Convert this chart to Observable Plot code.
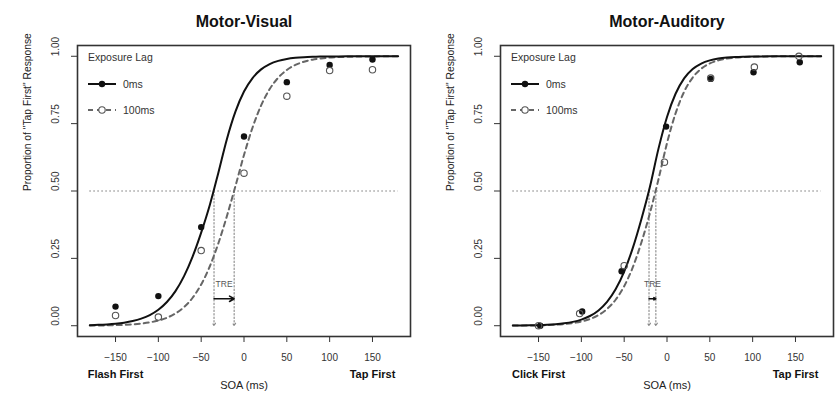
<!DOCTYPE html>
<html><head><meta charset="utf-8">
<script src="https://cdn.jsdelivr.net/npm/d3@7"></script>
<script src="https://cdn.jsdelivr.net/npm/@observablehq/plot@0.6"></script>
<style>
html,body{margin:0;padding:0;background:#fff;}
#wrap{display:flex;width:835px;height:394px;overflow:hidden;}
</style></head><body><div id="wrap"></div>
<script>
// ---- data ----
const panelTitles = ["Motor-Visual", "Motor-Auditory"];
const firstLabels = ["Flash First", "Click First"];
const lagLabels = ["0ms", "100ms"];
const xTicks = [-150, -100, -50, 0, 50, 100, 150];
const yTicks = [0, 0.25, 0.5, 0.75, 1];

// observed proportions
const mvSOA0 = [-150, -100, -50, 0, 50, 100, 150];
const mvLag0 = [0.071, 0.11, 0.366, 0.702, 0.904, 0.968, 0.988];
const mvSOA100 = [-150, -100, -50, 0, 50, 100, 150];
const mvLag100 = [0.038, 0.032, 0.279, 0.566, 0.852, 0.947, 0.95];

const maSOA0 = [-148, -99, -53, -1, 51, 101, 155];
const maLag0 = [0.0, 0.053, 0.202, 0.739, 0.916, 0.941, 0.978];
const maSOA100 = [-150, -102, -50, -3, 51, 102, 154];
const maLag100 = [0.0, 0.045, 0.223, 0.607, 0.919, 0.96, 1.0];

// fitted curves
const curveSOA = [-180,-170,-160,-150,-140,-130,-120,-110,-100,-90,-80,-70,-60,-50,-40,-30,-20,-10,0,10,20,30,40,50,60,70,80,90,100,110,120,130,140,150,160,170,180];
const mvFit0 = [0.0021,0.0032,0.0049,0.0074,0.0113,0.0172,0.0262,0.0395,0.0592,0.0879,0.1284,0.1841,0.2566,0.3456,0.4470,0.5671,0.6923,0.7943,0.8690,0.9192,0.9513,0.9710,0.9829,0.9900,0.9941,0.9966,0.9980,0.9988,0.9993,0.9996,0.9998,0.9999,0.9999,1,1,1,1];
const mvFit100 = [0.0006,0.0009,0.0014,0.0021,0.0033,0.0051,0.0080,0.0124,0.0192,0.0296,0.0455,0.0692,0.1038,0.1530,0.2198,0.3053,0.4066,0.5179,0.6337,0.7358,0.8176,0.8783,0.9207,0.9492,0.9679,0.9798,0.9874,0.9921,0.9951,0.9969,0.9981,0.9988,0.9993,0.9995,0.9997,0.9998,0.9999];
const maFit0 = [0.0005,0.0008,0.0013,0.0021,0.0034,0.0055,0.0089,0.0142,0.0227,0.0361,0.0568,0.0884,0.1350,0.2008,0.2881,0.3945,0.5147,0.6563,0.7747,0.8610,0.9178,0.9526,0.9731,0.9849,0.9915,0.9953,0.9974,0.9985,0.9992,0.9996,0.9998,0.9999,0.9999,1,1,1,1];
const maFit100 = [0.0004,0.0006,0.0009,0.0015,0.0024,0.0038,0.0061,0.0098,0.0156,0.0249,0.0395,0.0622,0.0964,0.1465,0.2165,0.3080,0.4174,0.5428,0.6776,0.7882,0.8683,0.9211,0.9538,0.9734,0.9848,0.9914,0.9951,0.9972,0.9984,0.9991,0.9995,0.9997,0.9998,0.9999,0.9999,1,1];

// 50% thresholds (0ms, 100ms)
const mvThresholds = [-35, -11.5];
const maThresholds = [-21, -13];
const treArrowLevel = 0.1;
const treLabelLevel = 0.153;

const FONT = "'Liberation Sans', Arial, Helvetica, sans-serif";

function panel(cfg) {
  const fit0 = curveSOA.map((x, i) => ({x, y: cfg.fit0[i]}));
  const fit100 = curveSOA.map((x, i) => ({x, y: cfg.fit100[i]}));
  const pts0 = cfg.soa0.map((x, i) => ({x, y: cfg.lag0[i]}));
  const pts100 = cfg.soa100.map((x, i) => ({x, y: cfg.lag100[i]}));
  const thr = cfg.thresholds;
  const legend = (index, scales, values, dims) => {
    const g = d3.create("svg:g").attr("font-family", FONT).attr("font-size", 10.5)
      .attr("fill", "#333").attr("text-anchor", "start");
    const x0 = dims.marginLeft + 11, y0 = dims.marginTop;
    g.append("text").attr("x", x0).attr("y", y0 + 12).attr("dy", "0.35em").attr("text-anchor", "start").text("Exposure Lag");
    // row 0ms
    g.append("line").attr("x1", x0).attr("x2", x0 + 28).attr("y1", y0 + 39).attr("y2", y0 + 39)
      .attr("stroke", "#111").attr("stroke-width", 2);
    g.append("circle").attr("cx", x0 + 14).attr("cy", y0 + 39).attr("r", 3.2).attr("fill", "#111");
    g.append("text").attr("x", x0 + 35).attr("y", y0 + 39).attr("dy", "0.35em").attr("text-anchor", "start").text(lagLabels[0]);
    // row 100ms
    g.append("line").attr("x1", x0).attr("x2", x0 + 28).attr("y1", y0 + 65).attr("y2", y0 + 65)
      .attr("stroke", "#666").attr("stroke-width", 2).attr("stroke-dasharray", "5,4");
    g.append("circle").attr("cx", x0 + 14).attr("cy", y0 + 65).attr("r", 3.2).attr("fill", "white")
      .attr("stroke", "#555").attr("stroke-width", 1.1);
    g.append("text").attr("x", x0 + 35).attr("y", y0 + 65).attr("dy", "0.35em").attr("text-anchor", "start").text(lagLabels[1]);
    return g.node();
  };
  return Plot.plot({
    width: cfg.width, height: 394,
    marginLeft: cfg.ml, marginRight: cfg.mr, marginTop: 45, marginBottom: 58,
    x: {domain: [-194.4, 194.4]},
    y: {domain: [-0.04, 1.04]},
    style: {fontFamily: FONT, fontSize: "10px", color: "#222", background: "white", overflow: "visible"},
    marks: [
      Plot.ruleY([0.5], {x1: curveSOA[0], x2: curveSOA[curveSOA.length - 1], stroke: "#777", strokeDasharray: "1.5,2.5", strokeWidth: 1.2}),
      Plot.arrow(thr, {x1: d => d, x2: d => d, y1: 0.5, y2: 0, stroke: "#888", strokeWidth: 1.1, strokeDasharray: "1.5,2", headLength: 4}),
      Plot.line(fit100, {x: "x", y: "y", stroke: "#666", strokeWidth: 2, strokeDasharray: "5,4", curve: "monotone-x"}),
      Plot.line(fit0, {x: "x", y: "y", stroke: "#111", strokeWidth: 2, curve: "monotone-x"}),
      Plot.dot(pts0, {x: "x", y: "y", r: 3.2, fill: "#111"}),
      Plot.dot(pts100, {x: "x", y: "y", r: 3.2, fill: "none", stroke: "#555", strokeWidth: 1.1}),
      Plot.text(["TRE"], {x: (thr[0] + thr[1]) / 2, y: treLabelLevel, text: d => d, fontSize: 8.5, fill: "#555"}),
      Plot.arrow([thr], {x1: d => d[0], x2: d => d[1], y1: treArrowLevel, y2: treArrowLevel, stroke: "#111", strokeWidth: 1.6, headLength: 5}),
      Plot.frame({stroke: "#333", strokeWidth: 1.6}),
      Plot.axisX({ticks: xTicks, tickSize: 6, tickPadding: 11, fontSize: 10, label: null, stroke: "#333", fill: "#333"}),
      Plot.axisY({ticks: yTicks, tickSize: 6, fill: "none", label: null, stroke: "#333"}),
      Plot.text(yTicks, {y: d => d, text: d => d.toFixed(2), frameAnchor: "left", dx: -22, rotate: -90, fontSize: 10, fill: "#333"}),
      Plot.text(["Proportion of \"Tap First\" Response"], {text: d => d, frameAnchor: "left", dx: -50, rotate: -90, fontSize: 10.3, fill: "#222"}),
      Plot.text([cfg.first, "Tap First"], {x: (d, i) => xTicks[i === 0 ? 0 : xTicks.length - 1], text: d => d, frameAnchor: "bottom", dy: 41, fontSize: 11, fontWeight: "bold", fill: "#111"}),
      Plot.text(["SOA (ms)"], {x: 0, text: d => d, frameAnchor: "bottom", dy: 52, fontSize: 11, fill: "#222"}),
      Plot.text([cfg.title], {text: d => d, frameAnchor: "top", dy: -30, fontSize: 16, fontWeight: "bold", fill: "#111"}),
      legend
    ]
  });
}

const wrap = document.getElementById("wrap");
wrap.append(panel({title: panelTitles[0], first: firstLabels[0], soa0: mvSOA0, lag0: mvLag0, soa100: mvSOA100, lag100: mvLag100,
  fit0: mvFit0, fit100: mvFit100, thresholds: mvThresholds, width: 417, ml: 77, mr: 7}));
wrap.append(panel({title: panelTitles[1], first: firstLabels[1], soa0: maSOA0, lag0: maLag0, soa100: maSOA100, lag100: maLag100,
  fit0: maFit0, fit100: maFit100, thresholds: maThresholds, width: 418, ml: 83, mr: 2}));
</script>
</body></html>
